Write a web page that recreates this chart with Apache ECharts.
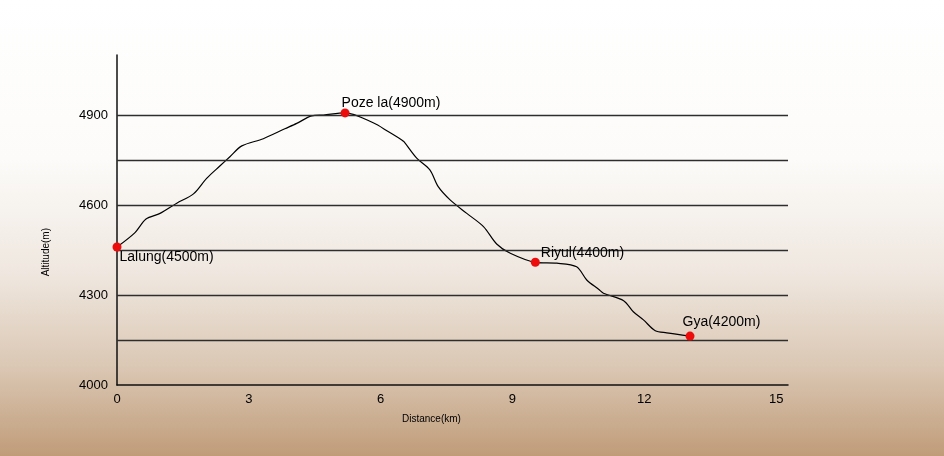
<!DOCTYPE html>
<html>
<head>
<meta charset="utf-8">
<script src="https://cdn.jsdelivr.net/npm/echarts@6/dist/echarts.min.js"></script>
<style>
html,body{margin:0;padding:0;}
#chart{width:944px;height:456px;}
</style>
</head>
<body>
<div id="chart"></div>
<script>
// profile (km, m)
var distKm = [0, 0.41, 0.66, 0.98, 1.36, 1.74, 2.04, 2.34, 2.57, 2.84, 3.33, 3.82, 4.09, 4.43, 4.70, 5.19,
	5.83, 6.18, 6.48, 6.53, 6.82, 7.12, 7.31, 7.58, 7.96, 8.34, 8.64, 8.95, 9.52,
	10.01, 10.46, 10.69, 10.96, 11.07, 11.53, 11.75, 11.98, 12.25, 12.51, 13.04];
var altM = [4460, 4508, 4553, 4572, 4606, 4637, 4689, 4730, 4761, 4797, 4821, 4854, 4872, 4897, 4900, 4907,
	4874, 4844, 4817, 4811, 4756, 4717, 4661, 4617, 4572, 4528, 4470, 4439, 4409,
	4406, 4394, 4350, 4319, 4306, 4281, 4244, 4217, 4181, 4174, 4163];
var stopNames = ['Lalung(4500m)', 'Poze la(4900m)', 'Riyul(4400m)', 'Gya(4200m)'];
var stopKm = [0, 5.19, 9.52, 13.04];
var stopAlt = [4460, 4907, 4409, 4163];
var gridLevels = [4150, 4300, 4450, 4600, 4750, 4900];

var lineData = [];
for (var i = 0; i < distKm.length; i++) {
	lineData.push([distKm[i], altM[i]]);
}
//每个站点的标签位置
var labelOffsets = [[-2, 10], [-8, -10], [1, -9], [-12, -14]];
var stopData = [];
for (var j = 0; j < stopNames.length; j++) {
	stopData.push({
		name: stopNames[j],
		value: [stopKm[j], stopAlt[j]],
		label: {offset: labelOffsets[j]}
	});
}
var levelLines = [];
for (var k = 0; k < gridLevels.length; k++) {
	levelLines.push({yAxis: gridLevels[k]});
}

var font = '"Liberation Sans", Arial, Helvetica, sans-serif';
var myChart = echarts.init(document.getElementById('chart'));
var option = {
	backgroundColor: new echarts.graphic.LinearGradient(0, 0, 0, 1, [
		{offset: 0, color: '#ffffff'},
		{offset: 0.35, color: '#fcfbf9'},
		{offset: 0.6, color: '#efe7df'},
		{offset: 0.8, color: '#dbc8b5'},
		{offset: 1, color: '#c09c79'}
	]),
	textStyle: {fontFamily: font},
	grid: {left: 117, right: 156, top: 55, bottom: 71},
	xAxis: {
		type: 'value',
		min: 0,
		max: 15.27,
		interval: 3,
		axisLine: {lineStyle: {color: '#111', width: 1.5}},
		axisTick: {show: false},
		splitLine: {show: false},
		axisLabel: {
			color: '#000',
			fontSize: 13,
			margin: 8,
			formatter: function (v) {
				return v % 3 === 0 ? String(v) : '';
			}
		}
	},
	yAxis: {
		type: 'value',
		min: 4000,
		max: 5100,
		interval: 150,
		axisLine: {show: true, lineStyle: {color: '#111', width: 1.5}},
		axisTick: {show: false},
		splitLine: {show: false},
		axisLabel: {
			color: '#000',
			fontSize: 13,
			margin: 9,
			formatter: function (v) {
				return (v - 4000) % 300 === 0 ? String(v) : '';
			}
		}
	},
	graphic: [
		{
			type: 'text',
			left: 41,
			top: 228,
			rotation: Math.PI / 2,
			style: {text: 'Altitude(m)', fill: '#000', font: '10px ' + font}
		},
		{
			type: 'text',
			left: 402,
			top: 414,
			style: {text: 'Distance(km)', fill: '#000', font: '10px ' + font}
		}
	],
	series: [
		{
			name: 'profile',
			type: 'line',
			data: lineData,
			smooth: 0.3,
			symbol: 'none',
			lineStyle: {color: '#000', width: 1.2},
			markLine: {
				silent: true,
				symbol: 'none',
				label: {show: false},
				lineStyle: {color: '#2e2e2e', width: 1.3, type: 'solid'},
				data: levelLines
			},
			z: 3
		},
		{
			name: 'stops',
			type: 'scatter',
			data: stopData,
			symbol: 'circle',
			symbolSize: 9,
			itemStyle: {color: '#ec0c0c', opacity: 1},
			label: {
				show: true,
				position: 'right',
				distance: 0,
				formatter: '{b}',
				color: '#000',
				fontSize: 14,
				fontFamily: font
			},
			z: 5
		}
	]
};
myChart.setOption(option);
</script>
</body>
</html>
